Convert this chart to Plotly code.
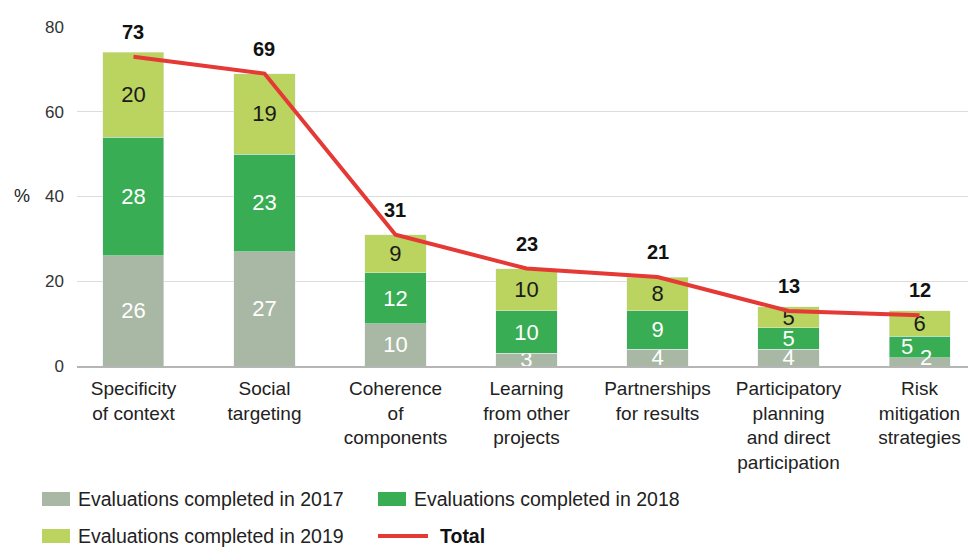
import plotly.graph_objects as go

# Share of evaluations (%) per design element, by completion year
categories = [
    "Specificity<br>of context",
    "Social<br>targeting",
    "Coherence<br>of<br>components",
    "Learning<br>from other<br>projects",
    "Partnerships<br>for results",
    "Participatory<br>planning<br>and direct<br>participation",
    "Risk<br>mitigation<br>strategies",
]
eval_2017 = [26, 27, 10, 3, 4, 4, 2]
eval_2018 = [28, 23, 12, 10, 9, 5, 5]
eval_2019 = [20, 19, 9, 10, 8, 5, 6]
total = [73, 69, 31, 23, 21, 13, 12]
y_ticks = [0, 20, 40, 60, 80]

series_names = [
    "Evaluations completed in 2017",
    "Evaluations completed in 2018",
    "Evaluations completed in 2019",
    "Total",
]

FONT = "Liberation Sans, Arial, Helvetica, sans-serif"
C2017 = "#A9B8A4"
C2018 = "#38AD53"
C2019 = "#BBD35F"
CTOTAL = "#E53935"

W, H = 968, 548
ML, MR, MT, MB = 77, 0, 27, 182
PW, PH = W - ML - MR, H - MT - MB


def px_x(p):
    return (p - ML) / PW


def px_y(p):
    return (H - MB - p) / PH


BAR_W = 0.466
SEG_FONT = 22
last = len(categories) - 1

# labels of the thin segments in the last column are nudged sideways
text_2017 = [str(v) if i != last else "" for i, v in enumerate(eval_2017)]
text_2018 = [str(v) if i != last else "" for i, v in enumerate(eval_2018)]

fig = go.Figure()
fig.add_trace(go.Bar(
    x=categories, y=eval_2017, name=series_names[0], marker_color=C2017,
    width=BAR_W, text=text_2017, textposition="inside", insidetextanchor="middle",
    textangle=0, textfont=dict(color="white", size=SEG_FONT, family=FONT),
    cliponaxis=False, showlegend=False,
))
fig.add_trace(go.Bar(
    x=categories, y=eval_2018, name=series_names[1], marker_color=C2018,
    width=BAR_W, text=text_2018, textposition="inside", insidetextanchor="middle",
    textangle=0, textfont=dict(color="white", size=SEG_FONT, family=FONT),
    cliponaxis=False, showlegend=False,
))
fig.add_trace(go.Bar(
    x=categories, y=eval_2019, name=series_names[2], marker_color=C2019,
    width=BAR_W, text=[str(v) for v in eval_2019], textposition="inside",
    insidetextanchor="middle", textangle=0,
    textfont=dict(color="#1a1a1a", size=SEG_FONT, family=FONT),
    cliponaxis=False, showlegend=False,
))
fig.add_trace(go.Scatter(
    x=categories, y=total, name=series_names[3], mode="lines",
    line=dict(color=CTOTAL, width=4), cliponaxis=False, showlegend=False,
))

annotations = []
# totals above the line
for c, v in zip(categories, total):
    annotations.append(dict(
        x=c, y=v, text=f"<b>{v}</b>", showarrow=False, yshift=25,
        font=dict(size=20, color="#111", family=FONT),
    ))
# thin segments in the last column
annotations.append(dict(
    x=categories[last], y=eval_2017[last] / 2, text=str(eval_2017[last]),
    showarrow=False, xshift=6, yshift=4,
    font=dict(size=SEG_FONT, color="white", family=FONT),
))
annotations.append(dict(
    x=categories[last], y=eval_2017[last] + eval_2018[last] / 2,
    text=str(eval_2018[last]), showarrow=False, xshift=-13,
    font=dict(size=SEG_FONT, color="white", family=FONT),
))
# axis unit
annotations.append(dict(
    x=px_x(12), y=px_y(196), xref="paper", yref="paper", text="%",
    xanchor="left", yanchor="middle",
    showarrow=False, font=dict(size=18, color="#222", family=FONT),
))

# legend drawn as swatches and captions below the plot
shapes = []
legend_rows = [499, 536]
swatches = [
    (42, legend_rows[0], C2017, series_names[0]),
    (378, legend_rows[0], C2018, series_names[1]),
    (42, legend_rows[1], C2019, series_names[2]),
]
for x0, yc, col, name in swatches:
    shapes.append(dict(
        type="rect", xref="paper", yref="paper",
        x0=px_x(x0), x1=px_x(x0 + 28), y0=px_y(yc - 7), y1=px_y(yc + 7),
        fillcolor=col, line=dict(width=0),
    ))
    annotations.append(dict(
        x=px_x(x0 + 34), y=px_y(yc), xref="paper", yref="paper", text=name,
        xanchor="left", yanchor="middle", showarrow=False,
        font=dict(size=19.5, color="#222", family=FONT),
    ))
shapes.append(dict(
    type="line", xref="paper", yref="paper",
    x0=px_x(378), x1=px_x(428), y0=px_y(legend_rows[1]), y1=px_y(legend_rows[1]),
    line=dict(color=CTOTAL, width=4),
))
annotations.append(dict(
    x=px_x(438), y=px_y(legend_rows[1]), xref="paper", yref="paper",
    text=f"<b>{series_names[3]}</b>", xanchor="left", yanchor="middle",
    showarrow=False, font=dict(size=19.5, color="#111", family=FONT),
))

fig.update_layout(
    width=W, height=H,
    margin=dict(l=ML, r=MR, t=MT, b=MB),
    barmode="stack",
    plot_bgcolor="white", paper_bgcolor="white",
    font=dict(family=FONT, color="#222"),
    showlegend=False,
    uniformtext=dict(minsize=SEG_FONT, mode="show"),
    annotations=annotations,
    shapes=shapes,
    xaxis=dict(
        type="category", range=[-0.431, 6.37],
        showgrid=False, showline=True, linecolor="#B5B5B5", linewidth=2,
        ticks="", tickfont=dict(size=19, color="#222", family=FONT),
        ticklabelstandoff=4,
    ),
    yaxis=dict(
        range=[0, 80], tickvals=y_ticks, showgrid=True, gridcolor="#DCDCDC",
        gridwidth=1, zeroline=False, showline=False, ticks="",
        tickfont=dict(size=17, color="#333", family=FONT),
        ticklabelstandoff=12,
    ),
)

fig.write_html("out.html")
